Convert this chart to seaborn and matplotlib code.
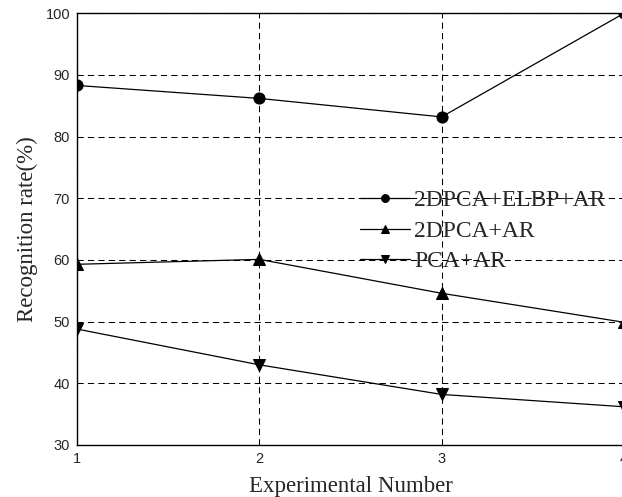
import pandas as pd
import numpy as np
import matplotlib
matplotlib.use('Agg')
import matplotlib.pyplot as plt
import seaborn as sns

# valores
experiments = [1, 2, 3, 4]
elbp_ar = [88.3, 86.2, 83.2, 100.0]
dpca_ar = [59.3, 60.1, 54.6, 49.9]
pca_ar = [48.8, 43.0, 38.2, 36.2]
methods = ["2DPCA+ELBP+AR", "2DPCA+AR", "PCA+AR"]

sns.set_style('white')
plt.rcParams['font.family'] = ['Liberation Sans', 'DejaVu Sans']

df = pd.DataFrame({
    'exp': experiments * 3,
    'rate': elbp_ar + dpca_ar + pca_ar,
    'method': np.repeat(methods, len(experiments)),
})

fig = plt.figure(figsize=(6.22, 4.97), dpi=100)
ax = fig.add_axes([77 / 622, 1 - 445 / 497, (624 - 77) / 622, (445 - 13.3) / 497])

sns.lineplot(data=df, x='exp', y='rate', hue='method', style='method',
             hue_order=methods, style_order=methods,
             palette=['black'] * 3, markers={'2DPCA+ELBP+AR': 'o', '2DPCA+AR': '^', 'PCA+AR': 'v'},
             dashes=False, markersize=8, markeredgecolor='black', linewidth=0.9, ax=ax)

ax.set_xlim(1, 4)
ax.set_ylim(30, 100)
ax.set_xticks([1, 2, 3, 4])
ax.set_yticks(range(30, 101, 10))
ax.grid(True, color='black', linestyle=(0, (6, 4)), linewidth=0.75)
ax.tick_params(direction='in', length=0, labelsize=10.5, pad=5)
for s in ax.spines.values():
    s.set_color('black')
    s.set_linewidth(1.0)

serif = ['Liberation Serif', 'DejaVu Serif']
ax.set_xlabel("Experimental Number", fontsize=16.5, family=serif, labelpad=7)
ax.set_ylabel("Recognition rate(%)", fontsize=16.5, family=serif, labelpad=5)

leg = ax.legend(loc='center left', bbox_to_anchor=((360 - 77) / 547, 1 - (231 - 13.3) / 431.7),
                frameon=False, prop={'family': serif, 'size': 17}, handlelength=2.1,
                handletextpad=0.2, labelspacing=0.37, borderaxespad=0, borderpad=0,
                markerscale=0.7)

fig.savefig('out.png', dpi=100)
